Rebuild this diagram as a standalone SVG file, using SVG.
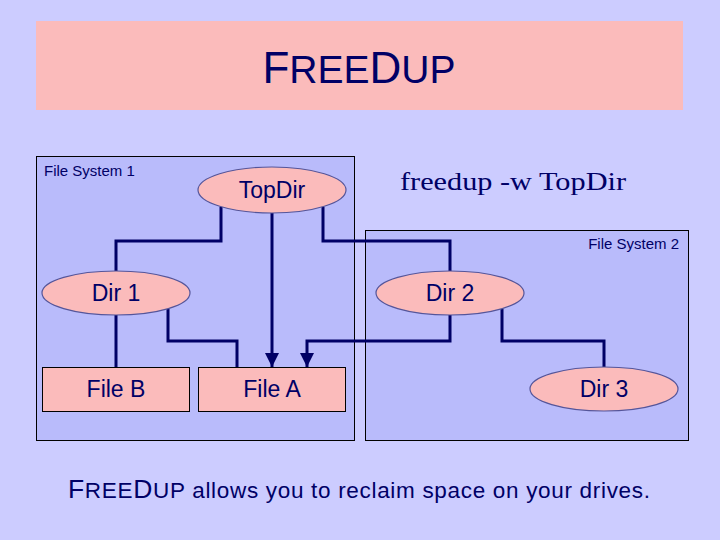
<svg xmlns="http://www.w3.org/2000/svg" width="720" height="540" viewBox="0 0 720 540">
  <style>
    .fs { fill: #b9bbfb; stroke: #000000; stroke-width: 1; }
    .fslabel { font-family: "Liberation Sans", Arial, sans-serif; font-size: 15px; fill: #000066; }
    .ell { fill: #fbbbbb; stroke: #555599; stroke-width: 1.2; }
    .box { fill: #fbbbbb; stroke: #000000; stroke-width: 1; }
    .lbl { font-family: "Liberation Sans", Arial, sans-serif; font-size: 23px; fill: #000066; text-anchor: middle; }
    .conn { fill: none; stroke: #000066; stroke-width: 3; stroke-linejoin: miter; }
    .sans { font-family: "Liberation Sans", Arial, sans-serif; fill: #000066; }
  </style>
  <defs>
    <marker id="arrow" markerUnits="userSpaceOnUse" markerWidth="14" markerHeight="14" refX="14" refY="7" orient="auto">
      <path d="M0,0 L14,7 L0,14 z" fill="#000066"/>
    </marker>
  </defs>
  <rect x="0" y="0" width="720" height="540" fill="#ccccff"/>

  <g id="title">
    <rect x="36" y="21" width="647" height="89" fill="#fbbbbb"/>
    <text class="sans" x="359" y="83" text-anchor="middle"><tspan font-size="44">F</tspan><tspan font-size="39">REE</tspan><tspan font-size="44">D</tspan><tspan font-size="39">UP</tspan></text>
  </g>

  <g id="filesystem1">
    <rect class="fs" x="36.5" y="156.5" width="318" height="284"/>
    <text class="fslabel" x="44" y="176">File System 1</text>
  </g>
  <g id="filesystem2">
    <rect class="fs" x="365.5" y="230.5" width="323" height="210"/>
    <text class="fslabel" x="679" y="249" text-anchor="end">File System 2</text>
  </g>

  <g id="command">
    <text x="400" y="190" font-family="'Liberation Serif', 'Times New Roman', serif" font-size="26" fill="#000066" textLength="226" lengthAdjust="spacingAndGlyphs">freedup -w TopDir</text>
  </g>

  <g id="connectors">
    <path class="conn" d="M221,207 V241 H116 V271"/>
    <path class="conn" d="M272,213 V367" marker-end="url(#arrow)"/>
    <path class="conn" d="M323,207 V241 H450 V271"/>
    <path class="conn" d="M116,315 V367"/>
    <path class="conn" d="M168,309 V341 H237 V367"/>
    <path class="conn" d="M450,315 V341 H307 V367" marker-end="url(#arrow)"/>
    <path class="conn" d="M502,309 V341 H604 V367"/>
  </g>

  <g id="topdir">
    <ellipse class="ell" cx="272" cy="190" rx="74" ry="23"/>
    <text class="lbl" x="272" y="198">TopDir</text>
  </g>
  <g id="dir1">
    <ellipse class="ell" cx="116" cy="293" rx="74" ry="22"/>
    <text class="lbl" x="116" y="301">Dir 1</text>
  </g>
  <g id="dir2">
    <ellipse class="ell" cx="450" cy="293" rx="74" ry="22"/>
    <text class="lbl" x="450" y="301">Dir 2</text>
  </g>
  <g id="dir3">
    <ellipse class="ell" cx="604" cy="389" rx="74" ry="22"/>
    <text class="lbl" x="604" y="397">Dir 3</text>
  </g>
  <g id="fileb">
    <rect class="box" x="42.5" y="367.5" width="147" height="44"/>
    <text class="lbl" x="116" y="397">File B</text>
  </g>
  <g id="filea">
    <rect class="box" x="198.5" y="367.5" width="147" height="44"/>
    <text class="lbl" x="272" y="397">File A</text>
  </g>

  <g id="caption">
    <text class="sans" x="68" y="498" font-size="22.5" textLength="582" lengthAdjust="spacing"><tspan font-size="26.5">F</tspan>REE<tspan font-size="26.5">D</tspan>UP allows you to reclaim space on your drives.</text>
  </g>
</svg>
